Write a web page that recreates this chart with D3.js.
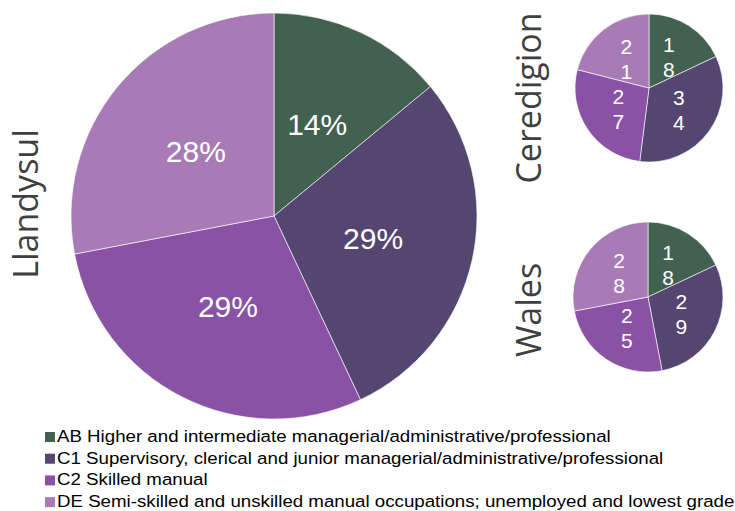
<!DOCTYPE html>
<html>
<head>
<meta charset="utf-8">
<script src="https://cdn.jsdelivr.net/npm/d3@7"></script>
<style>
  body { margin: 0; background: #fff; }
  svg { display: block; }
</style>
</head>
<body>
<div id="chart"></div>
<script>
// categories and values (percent)
var categories = ["AB", "C1", "C2", "DE"];
var legend_labels = [
  "AB Higher and intermediate managerial/administrative/professional",
  "C1 Supervisory, clerical and junior managerial/administrative/professional",
  "C2 Skilled manual",
  "DE Semi-skilled and unskilled manual occupations; unemployed and lowest grade"
];
var llandysul = [14, 29, 29, 28];
var ceredigion = [18, 34, 27, 21];
var wales = [18, 29, 25, 28];

var colours = ["#426150", "#554571", "#8a52a4", "#a97bb6"];

var width = 735, height = 511;
var label_font = "'Liberation Sans', Arial, sans-serif";
var title_font = "'Open Sans', sans-serif";

var svg = d3.select("#chart").append("svg")
    .attr("width", width)
    .attr("height", height)
    .attr("xmlns", "http://www.w3.org/2000/svg");

var colour = d3.scaleOrdinal().domain(categories).range(colours);

// draw one pie with its title
function draw_pie(values, cx, cy, r, title, title_x, title_y, title_size, label_size, split_digits)
{
  var data = values.map(function(v, i) { return {cat: categories[i], value: v}; });
  var pie = d3.pie().sort(null).value(function(d) { return d.value; });
  var arc = d3.arc().innerRadius(0).outerRadius(r);
  var label_arc = d3.arc().innerRadius(r * 0.5).outerRadius(r * 0.5);

  var g = svg.append("g")
      .attr("transform", "translate(" + cx + "," + cy + ")");

  var slices = g.selectAll("g.slice")
      .data(pie(data))
      .enter().append("g")
      .attr("class", "slice");

  slices.append("path")
      .attr("d", arc)
      .attr("fill", function(d) { return colour(d.data.cat); })
      .attr("stroke", "#ffffff")
      .attr("stroke-width", 0.6);

  slices.each(function(d) {
    var c = label_arc.centroid(d);
    var t = d3.select(this).append("text")
        .attr("fill", "#ffffff")
        .style("font-family", label_font)
        .attr("font-size", label_size)
        .attr("text-anchor", "middle");
    if (split_digits) {
      // small pies wrap their labels one digit per line
      var chars = String(d.data.value).split("");
      var lh = label_size * 1.2;
      var top = c[1] - (chars.length - 1) * lh / 2;
      chars.forEach(function(ch, i) {
        t.append("tspan")
          .attr("x", c[0])
          .attr("y", top + i * lh)
          .attr("dy", "0.35em")
          .text(ch);
      });
    } else {
      t.attr("x", c[0]).attr("y", c[1]).attr("dy", "0.35em")
        .text(d.data.value + "%");
    }
  });

  svg.append("text")
      .attr("transform", "translate(" + title_x + "," + title_y + ") rotate(-90)")
      .attr("text-anchor", "middle")
      .attr("dy", "0.35em")
      .attr("fill", "#404040")
      .style("font-family", title_font)
      .attr("font-size", title_size)
      .text(title);
}

draw_pie(llandysul, 274, 216, 203, "Llandysul", 26, 204, 34, 30, false);
draw_pie(ceredigion, 649, 88, 74, "Ceredigion", 529, 98, 34, 21, true);
draw_pie(wales, 648, 297, 75, "Wales", 529, 310, 34, 21, true);

// legend
var legend = svg.append("g")
    .attr("transform", "translate(45,442)");

var items = legend.selectAll("g.item")
    .data(legend_labels)
    .enter().append("g")
    .attr("class", "item")
    .attr("transform", function(d, i) { return "translate(0," + (i * 21.7) + ")"; });

items.append("rect")
    .attr("x", 0)
    .attr("y", -10)
    .attr("width", 10)
    .attr("height", 10)
    .attr("fill", function(d, i) { return colours[i]; });

// legend text is a bit wider than plain Arial in the original
items.append("text")
    .attr("transform", "translate(12,0) scale(1.1,1)")
    .attr("fill", "#000000")
    .style("font-family", label_font)
    .attr("font-size", 17)
    .text(function(d) { return d; });
</script>
</body>
</html>
